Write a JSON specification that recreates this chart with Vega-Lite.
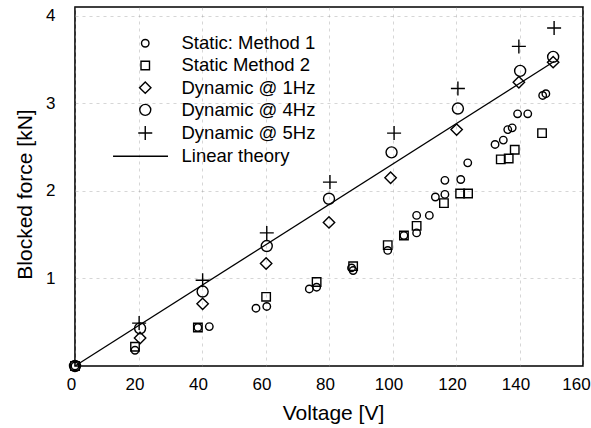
{
  "$schema": "https://vega.github.io/schema/vega-lite/v6.json",
  "width": 508,
  "height": 359,
  "autosize": {"type": "none"},
  "padding": {"left": 75, "top": 7, "right": 8, "bottom": 62},
  "background": "white",
  "config": {
    "view": {"stroke": "black", "strokeWidth": 1.6},
    "font": "Liberation Sans",
    "axis": {
      "labelFont": "Liberation Sans",
      "titleFont": "Liberation Sans",
      "labelColor": "black",
      "titleColor": "black",
      "titleFontWeight": "normal",
      "domain": false,
      "ticks": false,
      "gridColor": "#999999",
      "gridDash": [3, 4],
      "gridWidth": 0.8,
      "gridOpacity": 0.5
    },
    "legend": {
      "labelFont": "Liberation Sans",
      "labelColor": "black"
    }
  },
  "datasets": {
    "theory": [
      {"voltage": 0, "force": 0},
      {"voltage": 151, "force": 3.48}
    ],
    "measured": [
      {"series": "Static: Method 1", "voltage": 0, "force": 0},
      {"series": "Static: Method 1", "voltage": 18.9, "force": 0.18},
      {"series": "Static: Method 1", "voltage": 38.7, "force": 0.44},
      {"series": "Static: Method 1", "voltage": 42.3, "force": 0.45},
      {"series": "Static: Method 1", "voltage": 57.0, "force": 0.66},
      {"series": "Static: Method 1", "voltage": 60.4, "force": 0.68},
      {"series": "Static: Method 1", "voltage": 73.8, "force": 0.88},
      {"series": "Static: Method 1", "voltage": 76.1, "force": 0.90},
      {"series": "Static: Method 1", "voltage": 87.1, "force": 1.12},
      {"series": "Static: Method 1", "voltage": 87.6, "force": 1.09},
      {"series": "Static: Method 1", "voltage": 98.5, "force": 1.32},
      {"series": "Static: Method 1", "voltage": 103.6, "force": 1.49},
      {"series": "Static: Method 1", "voltage": 107.6, "force": 1.52},
      {"series": "Static: Method 1", "voltage": 107.6, "force": 1.72},
      {"series": "Static: Method 1", "voltage": 111.6, "force": 1.72},
      {"series": "Static: Method 1", "voltage": 113.5, "force": 1.93},
      {"series": "Static: Method 1", "voltage": 116.5, "force": 1.96},
      {"series": "Static: Method 1", "voltage": 116.5, "force": 2.12},
      {"series": "Static: Method 1", "voltage": 121.5, "force": 2.13},
      {"series": "Static: Method 1", "voltage": 123.7, "force": 2.32},
      {"series": "Static: Method 1", "voltage": 132.3, "force": 2.53},
      {"series": "Static: Method 1", "voltage": 134.9, "force": 2.58},
      {"series": "Static: Method 1", "voltage": 136.3, "force": 2.70},
      {"series": "Static: Method 1", "voltage": 137.7, "force": 2.72},
      {"series": "Static: Method 1", "voltage": 139.4, "force": 2.88},
      {"series": "Static: Method 1", "voltage": 142.6, "force": 2.88},
      {"series": "Static: Method 1", "voltage": 147.3, "force": 3.09},
      {"series": "Static: Method 1", "voltage": 148.3, "force": 3.11},
      {"series": "Static  Method 2", "voltage": 0, "force": 0},
      {"series": "Static  Method 2", "voltage": 18.9, "force": 0.22},
      {"series": "Static  Method 2", "voltage": 38.7, "force": 0.44},
      {"series": "Static  Method 2", "voltage": 60.2, "force": 0.79},
      {"series": "Static  Method 2", "voltage": 76.1, "force": 0.96},
      {"series": "Static  Method 2", "voltage": 87.6, "force": 1.14},
      {"series": "Static  Method 2", "voltage": 98.5, "force": 1.38},
      {"series": "Static  Method 2", "voltage": 103.6, "force": 1.49},
      {"series": "Static  Method 2", "voltage": 107.6, "force": 1.60},
      {"series": "Static  Method 2", "voltage": 116.2, "force": 1.86},
      {"series": "Static  Method 2", "voltage": 121.3, "force": 1.97},
      {"series": "Static  Method 2", "voltage": 123.8, "force": 1.97},
      {"series": "Static  Method 2", "voltage": 134.1, "force": 2.36},
      {"series": "Static  Method 2", "voltage": 136.6, "force": 2.37},
      {"series": "Static  Method 2", "voltage": 138.5, "force": 2.47},
      {"series": "Static  Method 2", "voltage": 147.1, "force": 2.66},
      {"series": "Dynamic @ 1Hz", "voltage": 20.5, "force": 0.32},
      {"series": "Dynamic @ 1Hz", "voltage": 40.2, "force": 0.71},
      {"series": "Dynamic @ 1Hz", "voltage": 60.2, "force": 1.17},
      {"series": "Dynamic @ 1Hz", "voltage": 80.0, "force": 1.64},
      {"series": "Dynamic @ 1Hz", "voltage": 99.4, "force": 2.15},
      {"series": "Dynamic @ 1Hz", "voltage": 120.2, "force": 2.70},
      {"series": "Dynamic @ 1Hz", "voltage": 139.8, "force": 3.24},
      {"series": "Dynamic @ 1Hz", "voltage": 150.6, "force": 3.47},
      {"series": "Dynamic @ 4Hz", "voltage": 0, "force": 0},
      {"series": "Dynamic @ 4Hz", "voltage": 20.5, "force": 0.43},
      {"series": "Dynamic @ 4Hz", "voltage": 40.2, "force": 0.85},
      {"series": "Dynamic @ 4Hz", "voltage": 60.4, "force": 1.37},
      {"series": "Dynamic @ 4Hz", "voltage": 80.0, "force": 1.91},
      {"series": "Dynamic @ 4Hz", "voltage": 99.7, "force": 2.44},
      {"series": "Dynamic @ 4Hz", "voltage": 120.6, "force": 2.94},
      {"series": "Dynamic @ 4Hz", "voltage": 140.2, "force": 3.37},
      {"series": "Dynamic @ 4Hz", "voltage": 150.6, "force": 3.53},
      {"series": "Dynamic @ 5Hz", "voltage": 20.2, "force": 0.49},
      {"series": "Dynamic @ 5Hz", "voltage": 40.2, "force": 0.98},
      {"series": "Dynamic @ 5Hz", "voltage": 60.4, "force": 1.52},
      {"series": "Dynamic @ 5Hz", "voltage": 80.3, "force": 2.10},
      {"series": "Dynamic @ 5Hz", "voltage": 100.5, "force": 2.66},
      {"series": "Dynamic @ 5Hz", "voltage": 120.6, "force": 3.17},
      {"series": "Dynamic @ 5Hz", "voltage": 139.8, "force": 3.65},
      {"series": "Dynamic @ 5Hz", "voltage": 150.9, "force": 3.86}
    ]
  },
  "layer": [
    {
      "data": {"name": "theory"},
      "mark": {"type": "line", "color": "black", "strokeWidth": 1.3},
      "encoding": {
        "x": {
          "field": "voltage",
          "type": "quantitative",
          "scale": {"domain": [0, 160], "nice": false, "zero": false},
          "axis": {
            "values": [0, 20, 40, 60, 80, 100, 120, 140, 160],
            "format": "d",
            "labelFontSize": 17,
            "labelPadding": 10,
            "labelOffset": {"condition": {"test": "datum.value == 160", "value": -7}, "value": -4},
            "labelFlush": false,
            "title": "Voltage [V]",
            "titleFontSize": 21,
            "titleX": 258,
            "titleY": 53,
            "titleAlign": "center",
            "titleBaseline": "alphabetic",
            "grid": true
          }
        },
        "y": {
          "field": "force",
          "type": "quantitative",
          "scale": {"domain": [0, 4.1], "nice": false, "zero": false},
          "axis": {
            "values": [1, 2, 3, 4],
            "format": "d",
            "labelFontSize": 17,
            "labelPadding": 20,
            "labelFlush": false,
            "title": "Blocked force [kN]",
            "titleFontSize": 21,
            "titleX": -50,
            "titleY": 187,
            "titleAngle": -90,
            "titleAlign": "center",
            "titleBaseline": "middle",
            "grid": true
          }
        }
      }
    },
    {
      "data": {"name": "measured"},
      "mark": {"type": "point", "filled": false, "color": "black", "strokeWidth": 1.4, "opacity": 1},
      "encoding": {
        "x": {"field": "voltage", "type": "quantitative"},
        "y": {"field": "force", "type": "quantitative"},
        "shape": {
          "field": "series",
          "type": "nominal",
          "scale": {
            "domain": ["Static: Method 1", "Static  Method 2", "Dynamic @ 1Hz", "Dynamic @ 4Hz", "Dynamic @ 5Hz", "Linear theory"],
            "range": ["circle", "square", "diamond", "circle", "M-1,0L1,0M0,-1L0,1", "M-9.2,0L6.5,0"]
          },
          "legend": {
            "title": null,
            "orient": "none",
            "legendX": 61,
            "legendY": 27,
            "padding": 0,
            "labelFontSize": 18.5,
            "labelOffset": 27,
            "rowPadding": 3.2,
            "symbolStrokeColor": "black",
            "symbolStrokeWidth": 1.4,
            "symbolFillColor": "transparent"
          }
        },
        "size": {
          "field": "series",
          "type": "nominal",
          "scale": {
            "type": "ordinal",
            "domain": ["Static: Method 1", "Static  Method 2", "Dynamic @ 1Hz", "Dynamic @ 4Hz", "Dynamic @ 5Hz", "Linear theory"],
            "range": [56, 72, 130, 121, 196, 49]
          },
          "legend": {
            "title": null,
            "orient": "none",
            "legendX": 61,
            "legendY": 27,
            "padding": 0,
            "labelFontSize": 18.5,
            "labelOffset": 27,
            "rowPadding": 3.2,
            "symbolStrokeColor": "black",
            "symbolStrokeWidth": 1.4,
            "symbolFillColor": "transparent"
          }
        }
      }
    }
  ]
}
